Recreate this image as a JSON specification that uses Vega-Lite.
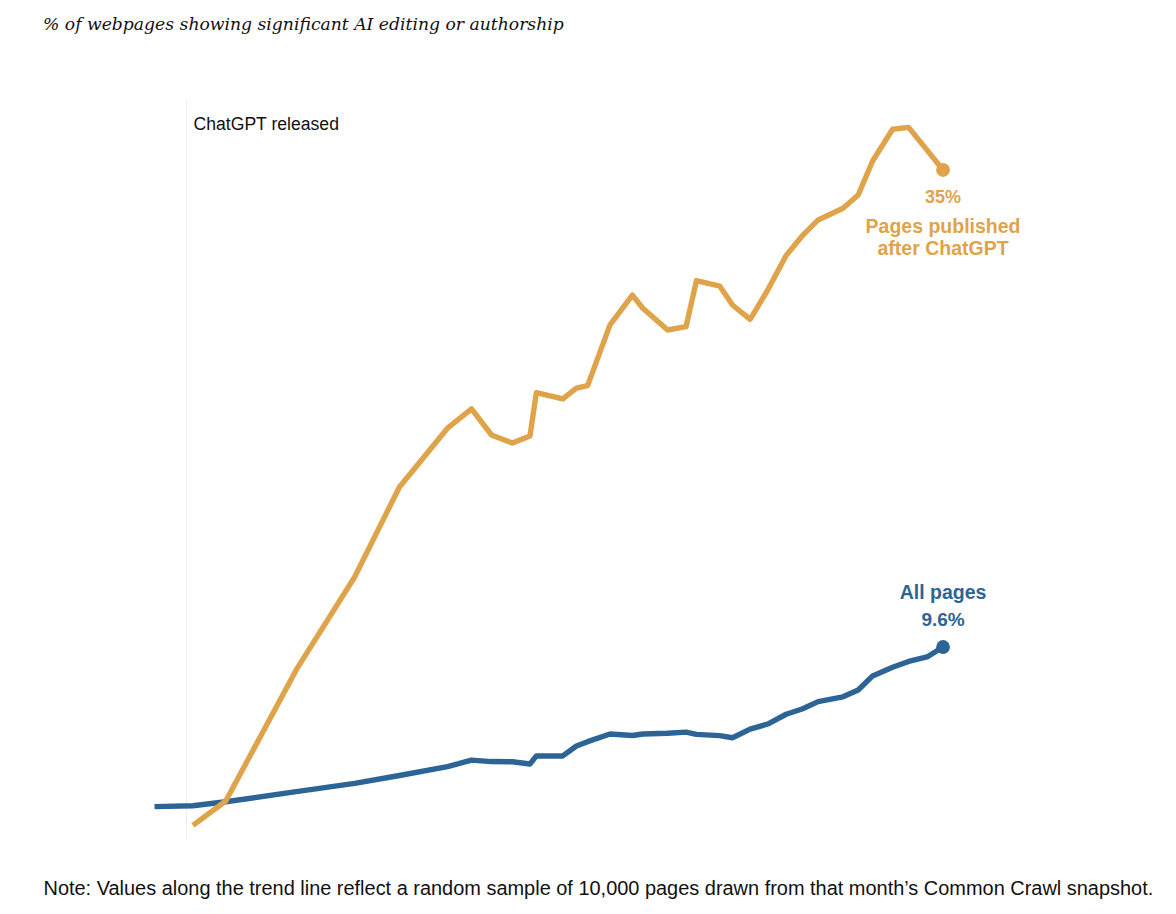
{
  "$schema": "https://vega.github.io/schema/vega-lite/v6.json",
  "width": 1176,
  "height": 800,
  "autosize": {"type": "none"},
  "padding": {"left": 0, "top": 60, "right": 0, "bottom": 54},
  "background": "white",
  "config": {"view": {"stroke": null}},
  "title": {
    "text": "% of webpages showing significant AI editing or authorship",
    "anchor": "start",
    "dx": 43,
    "offset": 13,
    "baseline": "alphabetic",
    "font": "DejaVu Serif",
    "fontStyle": "italic",
    "fontWeight": "normal",
    "fontSize": 17.2,
    "color": "#111111"
  },
  "datasets": {
    "series": [
      {"series": "All pages", "date": "2022-10-21", "value": 1.10},
      {"series": "All pages", "date": "2022-12-08", "value": 1.15},
      {"series": "All pages", "date": "2023-01-18", "value": 1.36},
      {"series": "All pages", "date": "2023-04-16", "value": 1.90},
      {"series": "All pages", "date": "2023-06-28", "value": 2.34},
      {"series": "All pages", "date": "2023-08-23", "value": 2.76},
      {"series": "All pages", "date": "2023-10-22", "value": 3.23},
      {"series": "All pages", "date": "2023-11-21", "value": 3.58},
      {"series": "All pages", "date": "2023-12-16", "value": 3.50},
      {"series": "All pages", "date": "2024-01-11", "value": 3.49},
      {"series": "All pages", "date": "2024-02-02", "value": 3.37},
      {"series": "All pages", "date": "2024-02-10", "value": 3.80},
      {"series": "All pages", "date": "2024-03-14", "value": 3.80},
      {"series": "All pages", "date": "2024-03-31", "value": 4.33},
      {"series": "All pages", "date": "2024-04-14", "value": 4.56},
      {"series": "All pages", "date": "2024-05-12", "value": 4.97},
      {"series": "All pages", "date": "2024-06-09", "value": 4.89},
      {"series": "All pages", "date": "2024-06-22", "value": 4.97},
      {"series": "All pages", "date": "2024-07-23", "value": 5.01},
      {"series": "All pages", "date": "2024-08-15", "value": 5.07},
      {"series": "All pages", "date": "2024-08-28", "value": 4.95},
      {"series": "All pages", "date": "2024-09-26", "value": 4.88},
      {"series": "All pages", "date": "2024-10-12", "value": 4.77},
      {"series": "All pages", "date": "2024-11-03", "value": 5.23},
      {"series": "All pages", "date": "2024-11-25", "value": 5.50},
      {"series": "All pages", "date": "2024-12-18", "value": 6.02},
      {"series": "All pages", "date": "2025-01-07", "value": 6.30},
      {"series": "All pages", "date": "2025-01-27", "value": 6.69},
      {"series": "All pages", "date": "2025-02-27", "value": 6.95},
      {"series": "All pages", "date": "2025-03-18", "value": 7.31},
      {"series": "All pages", "date": "2025-04-05", "value": 8.06},
      {"series": "All pages", "date": "2025-04-30", "value": 8.52},
      {"series": "All pages", "date": "2025-05-20", "value": 8.83},
      {"series": "All pages", "date": "2025-06-12", "value": 9.07},
      {"series": "All pages", "date": "2025-07-02", "value": 9.6},
      {"series": "Pages published after ChatGPT", "date": "2022-12-08", "value": 0.1},
      {"series": "Pages published after ChatGPT", "date": "2023-01-18", "value": 1.40},
      {"series": "Pages published after ChatGPT", "date": "2023-04-16", "value": 8.38},
      {"series": "Pages published after ChatGPT", "date": "2023-06-28", "value": 13.33},
      {"series": "Pages published after ChatGPT", "date": "2023-08-23", "value": 18.12},
      {"series": "Pages published after ChatGPT", "date": "2023-10-22", "value": 21.25},
      {"series": "Pages published after ChatGPT", "date": "2023-11-21", "value": 22.28},
      {"series": "Pages published after ChatGPT", "date": "2023-12-16", "value": 20.89},
      {"series": "Pages published after ChatGPT", "date": "2024-01-11", "value": 20.46},
      {"series": "Pages published after ChatGPT", "date": "2024-02-02", "value": 20.84},
      {"series": "Pages published after ChatGPT", "date": "2024-02-10", "value": 23.14},
      {"series": "Pages published after ChatGPT", "date": "2024-03-14", "value": 22.81},
      {"series": "Pages published after ChatGPT", "date": "2024-03-31", "value": 23.38},
      {"series": "Pages published after ChatGPT", "date": "2024-04-14", "value": 23.52},
      {"series": "Pages published after ChatGPT", "date": "2024-05-12", "value": 26.75},
      {"series": "Pages published after ChatGPT", "date": "2024-06-09", "value": 28.34},
      {"series": "Pages published after ChatGPT", "date": "2024-06-22", "value": 27.64},
      {"series": "Pages published after ChatGPT", "date": "2024-07-23", "value": 26.48},
      {"series": "Pages published after ChatGPT", "date": "2024-08-15", "value": 26.66},
      {"series": "Pages published after ChatGPT", "date": "2024-08-28", "value": 29.11},
      {"series": "Pages published after ChatGPT", "date": "2024-09-26", "value": 28.82},
      {"series": "Pages published after ChatGPT", "date": "2024-10-12", "value": 27.81},
      {"series": "Pages published after ChatGPT", "date": "2024-11-03", "value": 27.05},
      {"series": "Pages published after ChatGPT", "date": "2024-11-25", "value": 28.61},
      {"series": "Pages published after ChatGPT", "date": "2024-12-18", "value": 30.45},
      {"series": "Pages published after ChatGPT", "date": "2025-01-07", "value": 31.49},
      {"series": "Pages published after ChatGPT", "date": "2025-01-27", "value": 32.34},
      {"series": "Pages published after ChatGPT", "date": "2025-02-27", "value": 32.96},
      {"series": "Pages published after ChatGPT", "date": "2025-03-18", "value": 33.67},
      {"series": "Pages published after ChatGPT", "date": "2025-04-05", "value": 35.48},
      {"series": "Pages published after ChatGPT", "date": "2025-04-30", "value": 37.17},
      {"series": "Pages published after ChatGPT", "date": "2025-05-20", "value": 37.27},
      {"series": "Pages published after ChatGPT", "date": "2025-06-12", "value": 36.06},
      {"series": "Pages published after ChatGPT", "date": "2025-07-02", "value": 35.0}
    ],
    "endLabels": [
      {"series": "All pages", "date": "2025-07-02", "value": 9.6, "pct": "9.6%", "name": "All pages"},
      {"series": "Pages published after ChatGPT", "date": "2025-07-02", "value": 35.0, "pct": "35%", "name": "Pages published\nafter ChatGPT"}
    ],
    "events": [
      {"date": "2022-11-30", "label": "ChatGPT released"}
    ]
  },
  "encoding": {
    "x": {
      "field": "date",
      "type": "temporal",
      "scale": {
        "domain": [
          {"year": 2022, "month": 4, "date": 11, "utc": true},
          {"year": 2026, "month": 4, "date": 19, "utc": true}
        ]
      },
      "axis": {
        "title": "Note: Values along the trend line reflect a random sample of 10,000 pages drawn from that month\u2019s Common Crawl snapshot.",
        "domain": false,
        "ticks": false,
        "labels": false,
        "grid": false,
        "titleFont": "Liberation Sans",
        "titleFontSize": 19.95,
        "titleFontWeight": "normal",
        "titleColor": "#111111",
        "titleAnchor": "start",
        "titleAlign": "left",
        "titleX": 43,
        "titleY": 34,
        "titleBaseline": "alphabetic"
      }
    }
  },
  "layer": [
    {
      "data": {"name": "events"},
      "mark": {"type": "rule", "color": "#ededed", "strokeWidth": 1},
      "encoding": {
        "y": {"datum": 38.7, "type": "quantitative", "scale": {"domain": [-1.741, 40.857], "nice": false, "zero": false}, "axis": null},
        "y2": {"datum": -0.7}
      }
    },
    {
      "data": {"name": "events"},
      "mark": {"type": "text", "align": "left", "baseline": "alphabetic", "dx": 7, "font": "Liberation Sans", "fontSize": 17.6, "color": "#111111"},
      "encoding": {
        "y": {"datum": 37.13, "type": "quantitative"},
        "text": {"field": "label"}
      }
    },
    {
      "data": {"name": "series"},
      "mark": {"type": "line", "strokeWidth": 5.4, "strokeCap": "butt", "strokeJoin": "round"},
      "encoding": {
        "y": {"field": "value", "type": "quantitative"},
        "color": {
          "field": "series",
          "type": "nominal",
          "scale": {"domain": ["All pages", "Pages published after ChatGPT"], "range": ["#2c6495", "#dfa34a"]},
          "legend": null
        }
      }
    },
    {
      "data": {"name": "endLabels"},
      "mark": {"type": "circle", "size": 190, "opacity": 1},
      "encoding": {
        "y": {"field": "value", "type": "quantitative"},
        "color": {"field": "series", "type": "nominal", "legend": null}
      }
    },
    {
      "data": {"name": "endLabels"},
      "transform": [{"filter": "datum.series === 'All pages'"}],
      "mark": {"type": "text", "align": "center", "baseline": "alphabetic", "dy": -21, "font": "Liberation Sans", "fontWeight": "bold", "fontSize": 19},
      "encoding": {
        "y": {"field": "value", "type": "quantitative"},
        "text": {"field": "pct"},
        "color": {"field": "series", "type": "nominal", "legend": null}
      }
    },
    {
      "data": {"name": "endLabels"},
      "transform": [{"filter": "datum.series === 'All pages'"}],
      "mark": {"type": "text", "align": "center", "baseline": "alphabetic", "dy": -48.5, "font": "Liberation Sans", "fontWeight": "bold", "fontSize": 19.5},
      "encoding": {
        "y": {"field": "value", "type": "quantitative"},
        "text": {"field": "name"},
        "color": {"field": "series", "type": "nominal", "legend": null}
      }
    },
    {
      "data": {"name": "endLabels"},
      "transform": [{"filter": "datum.series !== 'All pages'"}],
      "mark": {"type": "text", "align": "center", "baseline": "alphabetic", "dy": 33, "font": "Liberation Sans", "fontWeight": "bold", "fontSize": 18},
      "encoding": {
        "y": {"field": "value", "type": "quantitative"},
        "text": {"field": "pct"},
        "color": {"field": "series", "type": "nominal", "legend": null}
      }
    },
    {
      "data": {"name": "endLabels"},
      "transform": [{"filter": "datum.series !== 'All pages'"}],
      "mark": {"type": "text", "align": "center", "baseline": "alphabetic", "dy": 63, "lineBreak": "\n", "lineHeight": 22, "font": "Liberation Sans", "fontWeight": "bold", "fontSize": 19.5},
      "encoding": {
        "y": {"field": "value", "type": "quantitative"},
        "text": {"field": "name"},
        "color": {"field": "series", "type": "nominal", "legend": null}
      }
    }
  ]
}
